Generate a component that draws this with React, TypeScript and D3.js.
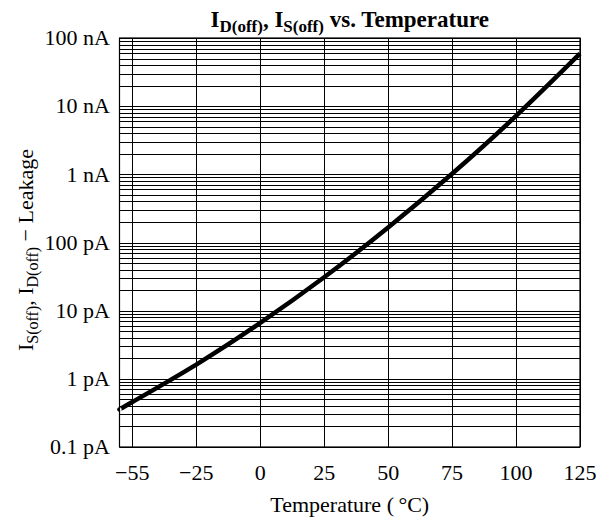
import React from "react";
import * as d3 from "d3";

const temps = [-55, -50, -25, 0, 25, 50, 75, 100, 125];
const leakage = [3.55e-13, 4.57e-13, 1.62e-12, 6.6e-12, 3.09e-11, 1.66e-10, 1.02e-9, 7.2e-9, 5.9e-8];

const xTickValues = [-50, -25, 0, 25, 50, 75, 100, 125];
const xTickLabels = ["\u221255", "\u221225", "0", "25", "50", "75", "100", "125"];
const yTickValues = [1e-13, 1e-12, 1e-11, 1e-10, 1e-9, 1e-8, 1e-7];
const yTickLabels = ["0.1 pA", "1 pA", "10 pA", "100 pA", "1 nA", "10 nA", "100 nA"];
const minorMultipliers = [2, 3, 4, 5, 6, 7, 8, 9];

const W = 596;
const H = 525;
const left = 119.5;
const right = 580;
const top = 38;
const bottom = 447;

export default function App() {
  const x = d3.scaleLinear().domain([-55, 125]).range([left, right]);
  const y = d3.scaleLog().domain([1e-13, 1e-7]).range([bottom, top]);

  const minor: number[] = [];
  yTickValues.slice(0, -1).forEach((d) => minorMultipliers.forEach((m) => minor.push(d * m)));

  const line = d3
    .line<number>()
    .x((_, i) => x(temps[i]))
    .y((d) => y(d))
    .curve(d3.curveNatural);

  const font = "'Liberation Serif', 'Times New Roman', serif";

  return (
    <svg
      width={W}
      height={H}
      style={{ position: "absolute", left: 0, top: 0, background: "#fff" }}
      fontFamily={font}
    >
      <rect x={0} y={0} width={W} height={H} fill="#fff" />
      {[...yTickValues, ...minor].map((v, i) => (
        <line
          key={"h" + i}
          x1={left}
          x2={right}
          y1={Math.round(y(v)) + 0.5}
          y2={Math.round(y(v)) + 0.5}
          stroke="#000"
          strokeWidth={1}
        />
      ))}
      {xTickValues.map((v, i) => (
        <line
          key={"v" + i}
          x1={Math.round(x(v)) + 0.5}
          x2={Math.round(x(v)) + 0.5}
          y1={top}
          y2={bottom}
          stroke="#000"
          strokeWidth={1}
        />
      ))}
      <rect
        x={left}
        y={top}
        width={right - left}
        height={bottom - top}
        fill="none"
        stroke="#000"
        strokeWidth={1.2}
      />
      <path d={line(leakage) || ""} fill="none" stroke="#000" strokeWidth={4.5} strokeLinecap="butt" />

      {yTickValues.map((v, i) => (
        <text key={"yl" + i} x={110} y={y(v)} dy="0.33em" textAnchor="end" fontSize={22}>
          {yTickLabels[i]}
        </text>
      ))}
      {xTickValues.map((v, i) => (
        <text key={"xl" + i} x={x(v)} y={480} textAnchor="middle" fontSize={22}>
          {xTickLabels[i]}
        </text>
      ))}

      <text x={(left + right) / 2} y={27} textAnchor="middle" fontSize={23} fontWeight="bold">
        I
        <tspan fontSize={17} dy={5}>D(off)</tspan>
        <tspan dy={-5}>, I</tspan>
        <tspan fontSize={17} dy={5}>S(off)</tspan>
        <tspan dy={-5}> vs. Temperature</tspan>
      </text>

      <text x={(left + right) / 2} y={512} textAnchor="middle" fontSize={22}>
        Temperature ({"\u2009"}°C)
      </text>

      <text transform="translate(33,250) rotate(-90)" textAnchor="middle" fontSize={22}>
        I
        <tspan fontSize={16} dy={5}>S(off)</tspan>
        <tspan dy={-5}>, I</tspan>
        <tspan fontSize={16} dy={5}>D(off)</tspan>
        <tspan dy={-5}> {"\u2212"} Leakage</tspan>
      </text>
    </svg>
  );
}
